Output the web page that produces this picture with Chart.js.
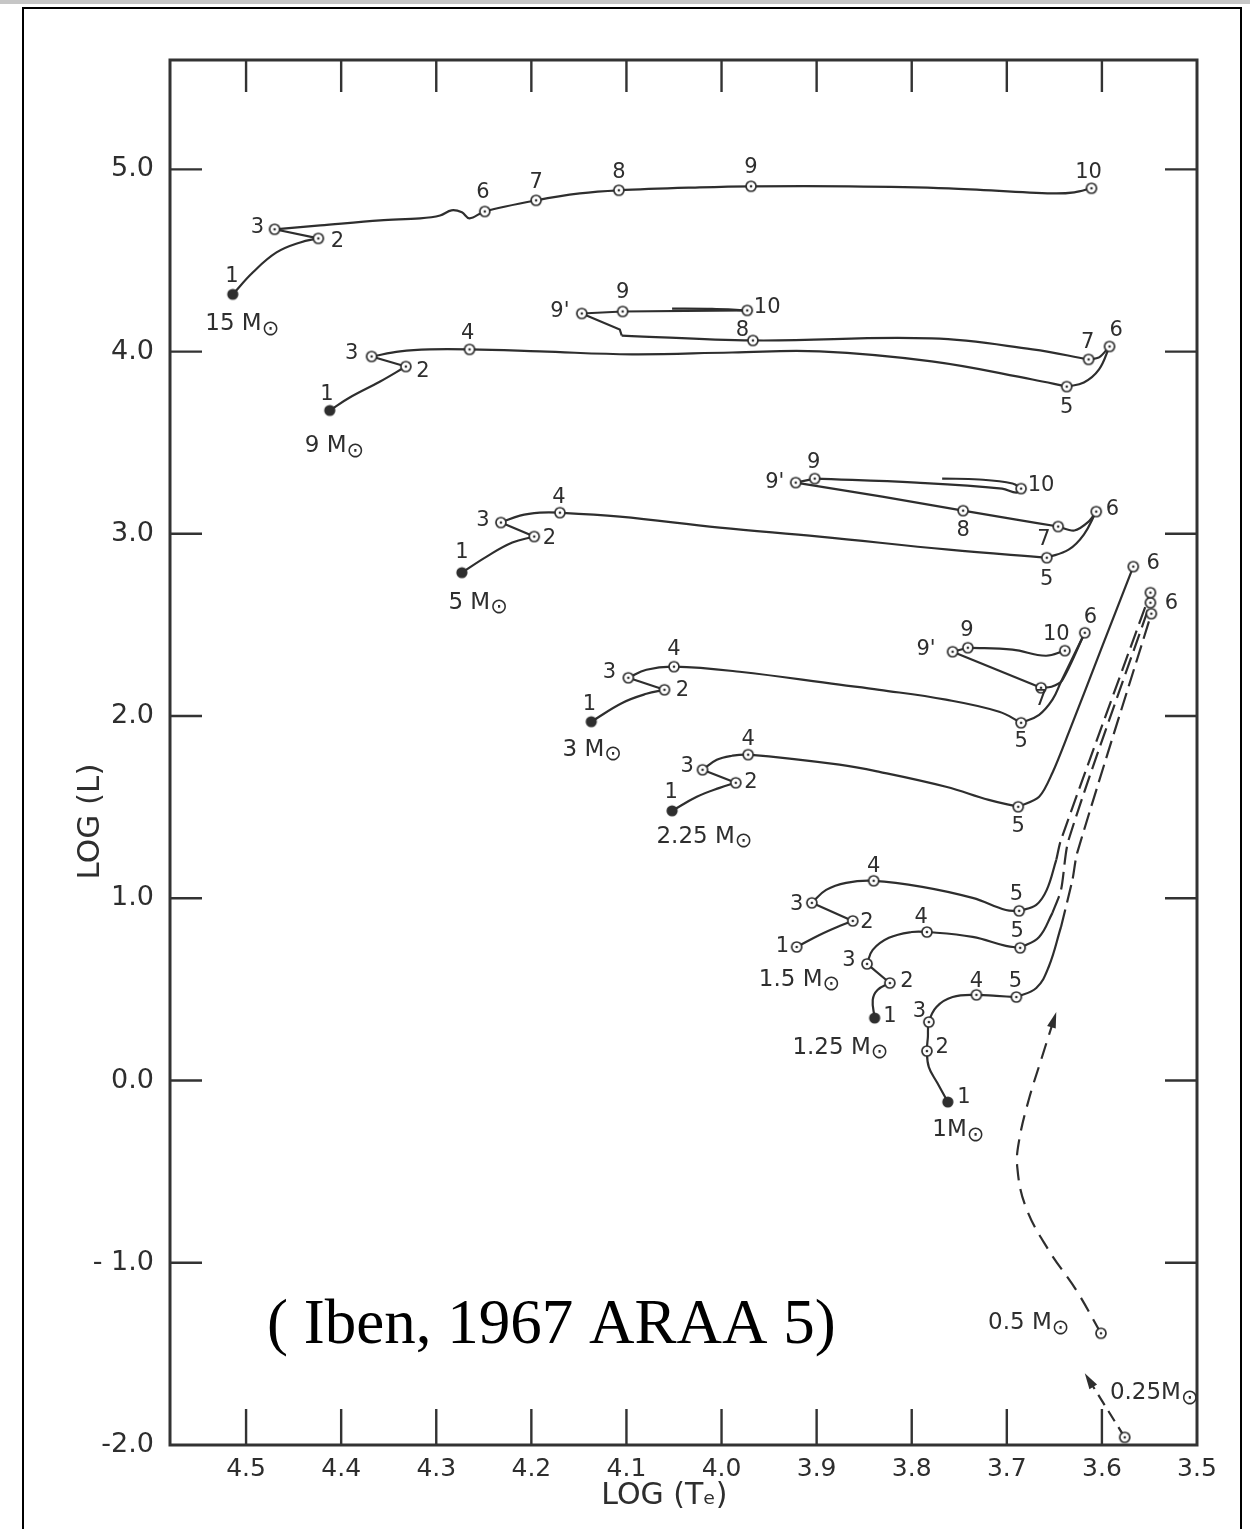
<!DOCTYPE html>
<html>
<head>
<meta charset="utf-8">
<script src="https://cdn.jsdelivr.net/npm/chart.js@4.4.1/dist/chart.umd.min.js"></script>
<style>
  html, body { margin: 0; padding: 0; background: #fff; overflow: hidden; }
  canvas { display: block; }
</style>
</head>
<body>
<canvas id="c" width="1250" height="1529"></canvas>
<script>
// ---------------- axes ----------------
const xTickValues = [4.5, 4.4, 4.3, 4.2, 4.1, 4.0, 3.9, 3.8, 3.7, 3.6, 3.5];
const yTickValues = [-2, -1, 0, 1, 2, 3, 4, 5];
const yTickLabels = ['-2.0', '- 1.0', '0.0', '1.0', '2.0', '3.0', '4.0', '5.0'];

// ---------------- 15 Msun ----------------
const m15Rise  = [[4.514,4.314],[4.493,4.434],[4.468,4.544],[4.443,4.599],[4.424,4.621]];
const m15Hook  = [[4.424,4.621],[4.470,4.671]];
const m15Cross = [[4.470,4.671],[4.422,4.692],[4.359,4.720],[4.317,4.731],[4.296,4.747],[4.284,4.775],[4.273,4.764],[4.265,4.731],[4.249,4.769],[4.195,4.830],[4.149,4.868],[4.108,4.885],[4.023,4.901],[3.969,4.907],[3.866,4.907],[3.761,4.896],[3.652,4.868],[3.629,4.874],[3.611,4.896]];
const m15Keys  = [[4.514,4.314],[4.424,4.621],[4.470,4.671],[4.249,4.769],[4.195,4.830],[4.108,4.885],[3.969,4.907],[3.611,4.896]];
const m15Labels = [['1',4.515,4.412],['2',4.404,4.605],['3',4.488,4.681],['6',4.251,4.874],['7',4.195,4.929],['8',4.108,4.984],['9',3.969,5.011],['10',3.614,4.984]];
const m15Name  = ['15 M⊙', 4.504, 4.149];

// ---------------- 9 Msun ----------------
const m9Rise  = [[4.412,3.677],[4.391,3.748],[4.359,3.836],[4.332,3.918]];
const m9Hook  = [[4.332,3.918],[4.368,3.973]];
const m9Cross = [[4.368,3.973],[4.338,4.001],[4.307,4.012],[4.265,4.012],[4.191,4.001],[4.094,3.985],[3.989,3.995],[3.897,4.001],[3.779,3.946],[3.673,3.847],[3.637,3.808]];
const m9Climb = [[3.637,3.808],[3.619,3.830],[3.603,3.902],[3.592,4.028]];
const m9Drop  = [[3.592,4.028],[3.603,3.968],[3.614,3.957]];
const m9Loop  = [[3.614,3.957],[3.673,4.012],[3.779,4.072],[3.967,4.061],[4.105,4.088]];
const m9Kink  = [[4.105,4.088],[4.107,4.121],[4.147,4.209]];
const m9Blue  = [[4.147,4.209],[4.104,4.220],[3.973,4.226]];
const m9Back  = [[3.973,4.226],[4.010,4.234],[4.052,4.236]];
const m9Keys  = [[4.412,3.677],[4.332,3.918],[4.368,3.973],[4.265,4.012],[3.637,3.808],[3.592,4.028],[3.614,3.957],[3.967,4.061],[4.147,4.209],[4.104,4.220],[3.973,4.226]];
const m9Labels = [['1',4.415,3.764],['2',4.314,3.891],['3',4.389,3.990],['4',4.267,4.099],['5',3.637,3.693],['6',3.585,4.116],['7',3.615,4.050],['8',3.978,4.116],["9'",4.170,4.220],['9',4.104,4.325],['10',3.952,4.242]];
const m9Name  = ['9 M⊙', 4.407, 3.479];

// ---------------- 5 Msun ----------------
const m5Rise  = [[4.273,2.787],[4.247,2.875],[4.220,2.952],[4.197,2.985]];
const m5Hook  = [[4.197,2.985],[4.232,3.062]];
const m5Cross = [[4.232,3.062],[4.212,3.100],[4.191,3.116],[4.170,3.116],[4.107,3.094],[4.002,3.034],[3.897,2.985],[3.761,2.913],[3.658,2.869]];
const m5Climb = [[3.658,2.869],[3.635,2.913],[3.619,2.996],[3.606,3.122]];
const m5Drop  = [[3.606,3.122],[3.614,3.067],[3.629,3.018],[3.646,3.040]];
const m5Loop  = [[3.646,3.040],[3.690,3.078],[3.746,3.127],[3.831,3.204],[3.922,3.281]];
const m5Blue  = [[3.922,3.281],[3.902,3.303]];
const m5Tail  = [[3.902,3.303],[3.795,3.281],[3.705,3.248],[3.690,3.226],[3.685,3.248]];
const m5Back  = [[3.685,3.248],[3.694,3.276],[3.729,3.298],[3.768,3.303]];
const m5Keys  = [[4.273,2.787],[4.197,2.985],[4.232,3.062],[4.170,3.116],[3.658,2.869],[3.606,3.122],[3.646,3.040],[3.746,3.127],[3.922,3.281],[3.902,3.303],[3.685,3.248]];
const m5Labels = [['1',4.273,2.897],['2',4.181,2.974],['3',4.251,3.073],['4',4.171,3.199],['5',3.658,2.749],['6',3.589,3.133],['7',3.661,2.968],['8',3.746,3.018],["9'",3.944,3.281],['9',3.903,3.391],['10',3.664,3.265]];
const m5Name  = ['5 M⊙', 4.256, 2.622];

// ---------------- 3 Msun ----------------
const m3Rise  = [[4.137,1.969],[4.104,2.073],[4.079,2.122],[4.060,2.144]];
const m3Hook  = [[4.060,2.144],[4.098,2.210]];
const m3Cross = [[4.098,2.210],[4.079,2.254],[4.050,2.271],[3.981,2.243],[3.876,2.172],[3.834,2.144],[3.764,2.090],[3.708,2.024],[3.685,1.963]];
const m3Climb = [[3.685,1.963],[3.666,2.007],[3.652,2.090],[3.643,2.188],[3.618,2.457]];
const m3Drop  = [[3.618,2.457],[3.642,2.194],[3.653,2.161],[3.664,2.155]];
const m3Loop  = [[3.664,2.155],[3.757,2.353]];
const m3Blue  = [[3.757,2.353],[3.741,2.375]];
const m3Tail  = [[3.741,2.375],[3.694,2.364],[3.659,2.331],[3.639,2.359]];
const m3Keys  = [[4.137,1.969],[4.060,2.144],[4.098,2.210],[4.050,2.271],[3.685,1.963],[3.618,2.457],[3.664,2.155],[3.757,2.353],[3.741,2.375],[3.639,2.359]];
const m3Labels = [['1',4.139,2.062],['2',4.041,2.139],['3',4.118,2.238],['4',4.050,2.364],['5',3.685,1.859],['6',3.612,2.540],['7',3.664,2.090],["9'",3.785,2.364],['9',3.742,2.468],['10',3.648,2.447]];
const m3Name  = ['3 M⊙', 4.136, 1.815];

// ---------------- 2.25 Msun ----------------
const m225Rise  = [[4.052,1.480],[4.026,1.557],[4.002,1.606],[3.985,1.634]];
const m225Hook  = [[3.985,1.634],[4.020,1.705]];
const m225Cross = [[4.020,1.705],[4.005,1.760],[3.989,1.782],[3.972,1.788],[3.876,1.733],[3.834,1.694],[3.764,1.612],[3.719,1.540],[3.688,1.502]];
const m225Climb = [[3.688,1.502],[3.666,1.557],[3.652,1.689],[3.635,1.908],[3.601,2.364],[3.567,2.820]];
const m225Keys  = [[4.052,1.480],[3.985,1.634],[4.020,1.705],[3.972,1.788],[3.688,1.502],[3.567,2.820]];
const m225Labels = [['1',4.053,1.579],['2',3.969,1.634],['3',4.036,1.722],['4',3.972,1.870],['5',3.688,1.392],['6',3.546,2.836]];
const m225Name  = ['2.25 M⊙', 4.018, 1.337];

// ---------------- 1.5 Msun ----------------
const m1p5Rise  = [[3.921,0.733],[3.897,0.799],[3.876,0.848],[3.862,0.876]];
const m1p5Hook  = [[3.862,0.876],[3.905,0.975]];
const m1p5Cross = [[3.905,0.975],[3.890,1.046],[3.869,1.085],[3.840,1.096],[3.789,1.063],[3.736,1.002],[3.701,0.936],[3.687,0.931]];
const m1p5Climb = [[3.687,0.931],[3.669,0.964],[3.658,1.046],[3.648,1.211]];
const m1p5Giant = [[3.648,1.211],[3.643,1.321],[3.549,2.677]];
const m1p5Keys  = [[3.921,0.733],[3.862,0.876],[3.905,0.975],[3.840,1.096],[3.687,0.931],[3.549,2.677]];
const m1p5Labels = [['1',3.936,0.733],['2',3.847,0.865],['3',3.921,0.964],['4',3.840,1.172],['5',3.690,1.019]];
const m1p5Name  = ['1.5 M⊙', 3.918, 0.552];

// ---------------- 1.25 Msun ----------------
const m1p25Rise  = [[3.839,0.343],[3.841,0.442],[3.836,0.497],[3.823,0.535]];
const m1p25Hook  = [[3.823,0.535],[3.847,0.640]];
const m1p25Cross = [[3.847,0.640],[3.841,0.717],[3.824,0.783],[3.800,0.815],[3.784,0.815],[3.736,0.788],[3.701,0.739],[3.686,0.728]];
const m1p25Climb = [[3.686,0.728],[3.666,0.788],[3.652,0.920]];
const m1p25Giant = [[3.652,0.920],[3.643,1.046],[3.635,1.321],[3.549,2.622]];
const m1p25Keys  = [[3.839,0.343],[3.823,0.535],[3.847,0.640],[3.784,0.815],[3.686,0.728],[3.549,2.622]];
const m1p25Labels = [['1',3.823,0.349],['2',3.805,0.541],['3',3.866,0.656],['4',3.790,0.892],['5',3.689,0.815]];
const m1p25Name  = ['1.25 M⊙', 3.875, 0.179];

// ---------------- 1 Msun ----------------
const m1Main  = [[3.762,-0.118],[3.773,-0.014],[3.782,0.074],[3.784,0.162],[3.783,0.239],[3.782,0.321],[3.774,0.404],[3.757,0.458],[3.732,0.470],[3.711,0.464],[3.690,0.458]];
const m1Climb = [[3.690,0.458],[3.669,0.508],[3.656,0.623],[3.643,0.843]];
const m1Giant = [[3.643,0.843],[3.631,1.101],[3.626,1.249],[3.548,2.562]];
const m1Keys  = [[3.762,-0.118],[3.784,0.162],[3.782,0.321],[3.732,0.470],[3.690,0.458],[3.548,2.562]];
const m1Labels = [['1',3.745,-0.096],['2',3.768,0.179],['3',3.792,0.376],['4',3.732,0.541],['5',3.691,0.541]];
const m1Name  = ['1M⊙', 3.751, -0.272];
const giantTipLabel = [['6', 3.527, 2.617]];

// ---------------- 0.5 and 0.25 Msun ----------------
const m05Track = [[3.601,-1.387],[3.627,-1.150],[3.656,-0.931],[3.680,-0.695],[3.689,-0.475],[3.687,-0.327],[3.677,-0.107],[3.663,0.129],[3.648,0.376]];
const m05Keys  = [[3.601,-1.387]];
const m05Name  = ['0.5 M⊙', 3.677, -1.332];
const m025Track = [[3.576,-1.958],[3.618,-1.606]];
const m025Keys  = [[3.576,-1.958]];
const m025Name  = ['0.25M⊙', 3.545, -1.716];

const citation = ['( Iben, 1967 ARAA 5)', 4.179, -1.442];

// ---------------- drawing helpers ----------------
const ink = '#2e2e2e';
const family = '"DejaVu Sans", "Liberation Sans", sans-serif';

function makeMarker(filled) {
  const c = document.createElement('canvas');
  c.width = 16; c.height = 16;
  const g = c.getContext('2d');
  if (filled) {
    g.beginPath(); g.arc(8, 8, 5.6, 0, Math.PI * 2); g.fillStyle = ink; g.fill();
  } else {
    g.beginPath(); g.arc(8, 8, 5, 0, Math.PI * 2); g.fillStyle = '#fff'; g.fill();
    g.lineWidth = 1.7; g.strokeStyle = ink; g.stroke();
    g.beginPath(); g.arc(8, 8, 1.3, 0, Math.PI * 2); g.fillStyle = ink; g.fill();
  }
  return c;
}
const ringMark = makeMarker(false);
const dotMark = makeMarker(true);

const toXY = a => a.map(([x, y]) => ({ x, y }));
const solid = (pts, tension = 0.4) => ({
  data: toXY(pts), showLine: true, borderColor: ink, borderWidth: 2.2,
  pointRadius: 0, tension, fill: false, order: 2
});
const dashed = (pts, dash, tension = 0.25) => Object.assign(solid(pts, tension), { borderDash: dash });
const stars = (pts, filledFirst) => ({
  data: toXY(pts), showLine: false, pointRadius: 5, order: 1,
  pointStyle: ctx => (filledFirst && ctx.dataIndex === 0) ? dotMark : ringMark
});

const datasets = [
  solid(m15Rise), solid(m15Hook, 0), solid(m15Cross, 0.35), stars(m15Keys, true),
  solid(m9Rise), solid(m9Hook, 0), solid(m9Cross), solid(m9Climb), solid(m9Drop, 0.3), solid(m9Loop),
  solid(m9Kink, 0), solid(m9Blue, 0), solid(m9Back, 0.3), stars(m9Keys, true),
  solid(m5Rise), solid(m5Hook, 0), solid(m5Cross), solid(m5Climb), solid(m5Drop, 0.3), solid(m5Loop),
  solid(m5Blue, 0), solid(m5Tail), solid(m5Back), stars(m5Keys, true),
  solid(m3Rise), solid(m3Hook, 0), solid(m3Cross), solid(m3Climb), solid(m3Drop, 0.3), solid(m3Loop, 0),
  solid(m3Blue, 0), solid(m3Tail), stars(m3Keys, true),
  solid(m225Rise), solid(m225Hook, 0), solid(m225Cross), solid(m225Climb, 0.3), stars(m225Keys, true),
  solid(m1p5Rise), solid(m1p5Hook, 0), solid(m1p5Cross), solid(m1p5Climb), dashed(m1p5Giant, [18, 7]), stars(m1p5Keys, false),
  solid(m1p25Rise), solid(m1p25Hook, 0), solid(m1p25Cross), solid(m1p25Climb), dashed(m1p25Giant, [18, 7]), stars(m1p25Keys, true),
  solid(m1Main), solid(m1Climb), dashed(m1Giant, [18, 7]), stars(m1Keys, true),
  dashed(m05Track, [16, 9], 0.4), stars(m05Keys, false),
  dashed(m025Track, [12, 7], 0), stars(m025Keys, false)
];

const numberLabels = [m15Labels, m9Labels, m5Labels, m3Labels, m225Labels, m1p5Labels, m1p25Labels, m1Labels, giantTipLabel];
const starNames = [m15Name, m9Name, m5Name, m3Name, m225Name, m1p5Name, m1p25Name, m1Name, m05Name, m025Name];
const arrowTracks = [m05Track, m025Track];

function drawStarName(ctx, text, cx, cy) {
  const main = text.split('⊙')[0];
  ctx.font = `23px ${family}`;
  const w1 = ctx.measureText(main).width;
  ctx.font = `21px ${family}`;
  const w2 = ctx.measureText('⊙').width;
  const x0 = cx - (w1 + w2) / 2;
  ctx.textAlign = 'left';
  ctx.textBaseline = 'middle';
  ctx.font = `23px ${family}`;
  ctx.fillText(main, x0, cy);
  ctx.font = `21px ${family}`;
  ctx.fillText('⊙', x0 + w1, cy + 5);
}

const decorPlugin = {
  id: 'decor',
  beforeDraw(chart) {
    const { ctx, width, height } = chart;
    ctx.save();
    ctx.fillStyle = '#fff';
    ctx.fillRect(0, 0, width, height);
    ctx.fillStyle = '#c6c6c6';
    ctx.fillRect(0, 0, width, 4);
    ctx.strokeStyle = '#000';
    ctx.lineWidth = 2;
    ctx.beginPath();
    ctx.moveTo(23, height + 2); ctx.lineTo(23, 8); ctx.lineTo(1241, 8); ctx.lineTo(1241, height + 2);
    ctx.stroke();
    ctx.restore();
  },
  beforeDatasetsDraw(chart) {
    const { ctx, chartArea: a, scales: { x, y } } = chart;
    ctx.save();
    ctx.strokeStyle = '#333';
    ctx.lineWidth = 3;
    ctx.strokeRect(a.left, a.top, a.right - a.left, a.bottom - a.top);
    ctx.lineWidth = 2.4;
    ctx.beginPath();
    xTickValues.filter(v => v > 3.55).forEach(v => {
      const px = x.getPixelForValue(v);
      ctx.moveTo(px, a.bottom); ctx.lineTo(px, a.bottom - 36);
      ctx.moveTo(px, a.top); ctx.lineTo(px, a.top + 32);
    });
    yTickValues.filter(v => v > -1.5).forEach(v => {
      const py = y.getPixelForValue(v);
      ctx.moveTo(a.left, py); ctx.lineTo(a.left + 32, py);
      ctx.moveTo(a.right, py); ctx.lineTo(a.right - 32, py);
    });
    ctx.stroke();
    ctx.restore();
  },
  afterDatasetsDraw(chart) {
    const { ctx, scales: { x, y } } = chart;
    ctx.save();
    ctx.fillStyle = ink;
    // arrow heads
    arrowTracks.forEach(tr => {
      const p1 = tr[tr.length - 2], p2 = tr[tr.length - 1];
      const x1 = x.getPixelForValue(p1[0]), y1 = y.getPixelForValue(p1[1]);
      const x2 = x.getPixelForValue(p2[0]), y2 = y.getPixelForValue(p2[1]);
      const ang = Math.atan2(y2 - y1, x2 - x1);
      ctx.beginPath();
      ctx.moveTo(x2, y2);
      ctx.lineTo(x2 - 16 * Math.cos(ang) + 4.5 * Math.sin(ang), y2 - 16 * Math.sin(ang) - 4.5 * Math.cos(ang));
      ctx.lineTo(x2 - 16 * Math.cos(ang) - 4.5 * Math.sin(ang), y2 - 16 * Math.sin(ang) + 4.5 * Math.cos(ang));
      ctx.closePath();
      ctx.fill();
    });
    // point numbers
    ctx.textBaseline = 'middle';
    numberLabels.forEach(set => set.forEach(([t, vx, vy]) => {
      ctx.font = `21px ${family}`;
      ctx.textAlign = 'center';
      ctx.fillText(t, x.getPixelForValue(vx), y.getPixelForValue(vy));
    }));
    // mass names
    starNames.forEach(([t, vx, vy]) => drawStarName(ctx, t, x.getPixelForValue(vx), y.getPixelForValue(vy)));
    // citation
    ctx.fillStyle = '#000';
    ctx.font = '63px "Liberation Serif", "Times New Roman", serif';
    ctx.textAlign = 'center';
    ctx.textBaseline = 'alphabetic';
    ctx.fillText(citation[0], x.getPixelForValue(citation[1]), y.getPixelForValue(citation[2]));
    ctx.restore();
  }
};

const nb = '\u00a0';
new Chart(document.getElementById('c'), {
  type: 'scatter',
  data: { datasets },
  options: {
    responsive: false,
    animation: false,
    devicePixelRatio: 1,
    events: [],
    layout: { padding: { left: 0, right: 53, top: 60, bottom: 0 } },
    plugins: { legend: { display: false }, tooltip: { enabled: false } },
    scales: {
      x: {
        type: 'linear', reverse: true, min: 3.5, max: 4.58,
        afterBuildTicks: s => { s.ticks = xTickValues.map(v => ({ value: v })); },
        afterFit: s => { s.height = 84; },
        grid: { display: false, drawTicks: false },
        border: { display: false },
        ticks: {
          autoSkip: false, maxRotation: 0, padding: 9, color: ink,
          font: { family: family, size: 25 },
          callback: v => Number(v).toFixed(1)
        },
        title: {
          display: true, text: 'LOG (Tₑ)' + nb.repeat(4), color: ink,
          font: { family: family, size: 30 }, padding: { top: 0, bottom: 15 }
        }
      },
      y: {
        type: 'linear', min: -2, max: 5.6,
        afterBuildTicks: s => { s.ticks = yTickValues.map(v => ({ value: v })); },
        afterFit: s => { s.width = 170; },
        grid: { display: false, drawTicks: false },
        border: { display: false },
        ticks: {
          autoSkip: false, padding: 16, color: ink,
          font: { family: family, size: 27 },
          callback: v => yTickLabels[yTickValues.indexOf(Number(v))]
        },
        title: {
          display: true, text: 'LOG (L)' + nb.repeat(14), color: ink,
          font: { family: family, size: 31 }, padding: { top: 72, bottom: 0 }
        }
      }
    }
  },
  plugins: [decorPlugin]
});
</script>
</body>
</html>
